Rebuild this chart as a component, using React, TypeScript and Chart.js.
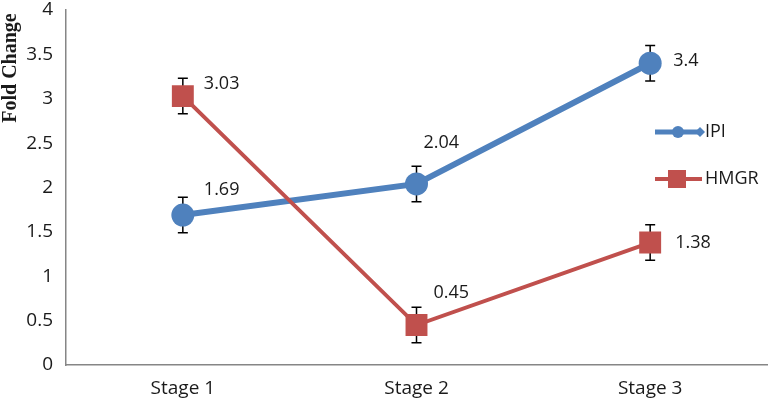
import React, { useEffect, useRef } from "react";
import { Chart, registerables } from "chart.js";

Chart.register(...registerables);

const categories = ["Stage 1", "Stage 2", "Stage 3"];
const seriesNames = ["IPI", "HMGR"];
const ipiValues = [1.69, 2.04, 3.4];
const hmgrValues = [3.03, 0.45, 1.38];
const ipiErrors = [0.2, 0.2, 0.2];
const hmgrErrors = [0.2, 0.2, 0.2];
const yTitle = "Fold Change";
const yMin = 0;
const yMax = 4;
const yStep = 0.5;

const BLUE = "#4F81BD";
const RED = "#C0504D";
const TEXT = "#1a1a1a";
const FONT = '"Open Sans", "Liberation Sans", sans-serif';

// label offsets (style only): [dx, dy] from point, per dataset
const labelOffsets = [
  [[21, -25], [7, -41], [23, -2]],
  [[21, -12], [17, -32], [25, 0]],
];

const errorBarPlugin = {
  id: "errorBars",
  beforeDatasetsDraw(chart: any) {
    const ctx = chart.ctx;
    const ys = chart.scales.y;
    chart.data.datasets.forEach((ds: any, di: number) => {
      const meta = chart.getDatasetMeta(di);
      meta.data.forEach((pt: any, i: number) => {
        const v = ds.data[i];
        const e = ds.errors[i];
        const yt = ys.getPixelForValue(v + e);
        const yb = ys.getPixelForValue(v - e);
        ctx.save();
        ctx.strokeStyle = "#000";
        ctx.lineWidth = 1.5;
        ctx.beginPath();
        ctx.moveTo(pt.x, yt);
        ctx.lineTo(pt.x, yb);
        ctx.moveTo(pt.x - 5, yt);
        ctx.lineTo(pt.x + 5, yt);
        ctx.moveTo(pt.x - 5, yb);
        ctx.lineTo(pt.x + 5, yb);
        ctx.stroke();
        ctx.restore();
      });
    });
  },
  afterDatasetsDraw(chart: any) {
    const ctx = chart.ctx;
    chart.data.datasets.forEach((ds: any, di: number) => {
      const meta = chart.getDatasetMeta(di);
      meta.data.forEach((pt: any, i: number) => {
        const off = labelOffsets[di][i];
        ctx.save();
        ctx.fillStyle = TEXT;
        ctx.font = `18px ${FONT}`;
        ctx.textAlign = "left";
        ctx.textBaseline = "middle";
        ctx.fillText(String(ds.data[i]), pt.x + off[0], pt.y + off[1]);
        ctx.restore();
      });
    });
  },
  afterDraw(chart: any) {
    const ctx = chart.ctx;
    // y axis title
    ctx.save();
    ctx.translate(11, 68);
    ctx.rotate(-Math.PI / 2);
    ctx.fillStyle = TEXT;
    ctx.font = 'bold 20px "Liberation Serif", "Times New Roman", serif';
    ctx.textAlign = "center";
    ctx.textBaseline = "middle";
    ctx.fillText(yTitle, 0, 0);
    ctx.restore();

    // legend
    const lx0 = 655, lx1 = 702, tx = 705;
    const y1 = 132, y2 = 179;
    ctx.save();
    ctx.strokeStyle = BLUE;
    ctx.lineWidth = 5;
    ctx.beginPath();
    ctx.moveTo(lx0, y1);
    ctx.lineTo(lx1, y1);
    ctx.stroke();
    ctx.fillStyle = BLUE;
    ctx.beginPath();
    ctx.arc(678, y1, 6, 0, Math.PI * 2);
    ctx.fill();
    ctx.beginPath();
    ctx.moveTo(700, y1 - 5);
    ctx.lineTo(705, y1);
    ctx.lineTo(700, y1 + 5);
    ctx.lineTo(695, y1);
    ctx.closePath();
    ctx.fill();

    ctx.strokeStyle = RED;
    ctx.lineWidth = 4;
    ctx.beginPath();
    ctx.moveTo(lx0, y2);
    ctx.lineTo(lx1, y2);
    ctx.stroke();
    ctx.fillStyle = RED;
    ctx.fillRect(668, y2 - 9, 18, 18);

    ctx.fillStyle = TEXT;
    ctx.font = `18px ${FONT}`;
    ctx.textAlign = "left";
    ctx.textBaseline = "middle";
    ctx.fillText(seriesNames[0], tx, y1);
    ctx.fillText(seriesNames[1], tx, y2);
    ctx.restore();
  },
};

export default function App() {
  const ref = useRef<HTMLCanvasElement | null>(null);
  useEffect(() => {
    document.body.style.margin = "0";
    if (!ref.current) return;
    const chart = new Chart(ref.current, {
      type: "line",
      data: {
        labels: categories,
        datasets: [
          {
            label: seriesNames[0],
            data: ipiValues,
            errors: ipiErrors,
            borderColor: BLUE,
            backgroundColor: BLUE,
            borderWidth: 6,
            pointStyle: "circle",
            pointRadius: 11.5,
            pointBorderWidth: 0,
            pointBackgroundColor: BLUE,
            order: 1,
          } as any,
          {
            label: seriesNames[1],
            data: hmgrValues,
            errors: hmgrErrors,
            borderColor: RED,
            backgroundColor: RED,
            borderWidth: 4,
            pointStyle: "rect",
            pointRadius: 15.5,
            pointBorderWidth: 0,
            pointBackgroundColor: RED,
            order: 0,
          } as any,
        ],
      },
      options: {
        animation: false,
        responsive: false,
        devicePixelRatio: 1,
        layout: { autoPadding: false, padding: { top: 10, right: 4, left: 0, bottom: 0 } },
        plugins: {
          legend: { display: false },
          tooltip: { enabled: false },
        },
        scales: {
          x: {
            type: "category",
            offset: true,
            grid: { display: false, drawTicks: false },
            border: { display: true, color: "#868686", width: 1.5 },
            ticks: {
              color: TEXT,
              font: { family: FONT, size: 19 },
              padding: 12,
            },
            afterFit: (s: any) => {
              s.height = 37;
              s.paddingLeft = 0;
              s.paddingRight = 0;
            },
          },
          y: {
            min: yMin,
            max: yMax,
            grid: { display: false, drawTicks: false },
            border: { display: true, color: "#868686", width: 1.5 },
            ticks: {
              stepSize: yStep,
              color: TEXT,
              font: { family: FONT, size: 19 },
              padding: 13,
              callback: (v: any) => String(Number(v)),
            },
            afterFit: (s: any) => {
              s.width = 66;
              s.paddingTop = 0;
              s.paddingBottom = 0;
            },
          },
        },
      },
      plugins: [errorBarPlugin],
    } as any);
    return () => chart.destroy();
  }, []);
  return (
    <div style={{ width: 771, height: 402 }}>
      <canvas ref={ref} width={771} height={402} style={{ display: "block" }} />
    </div>
  );
}
